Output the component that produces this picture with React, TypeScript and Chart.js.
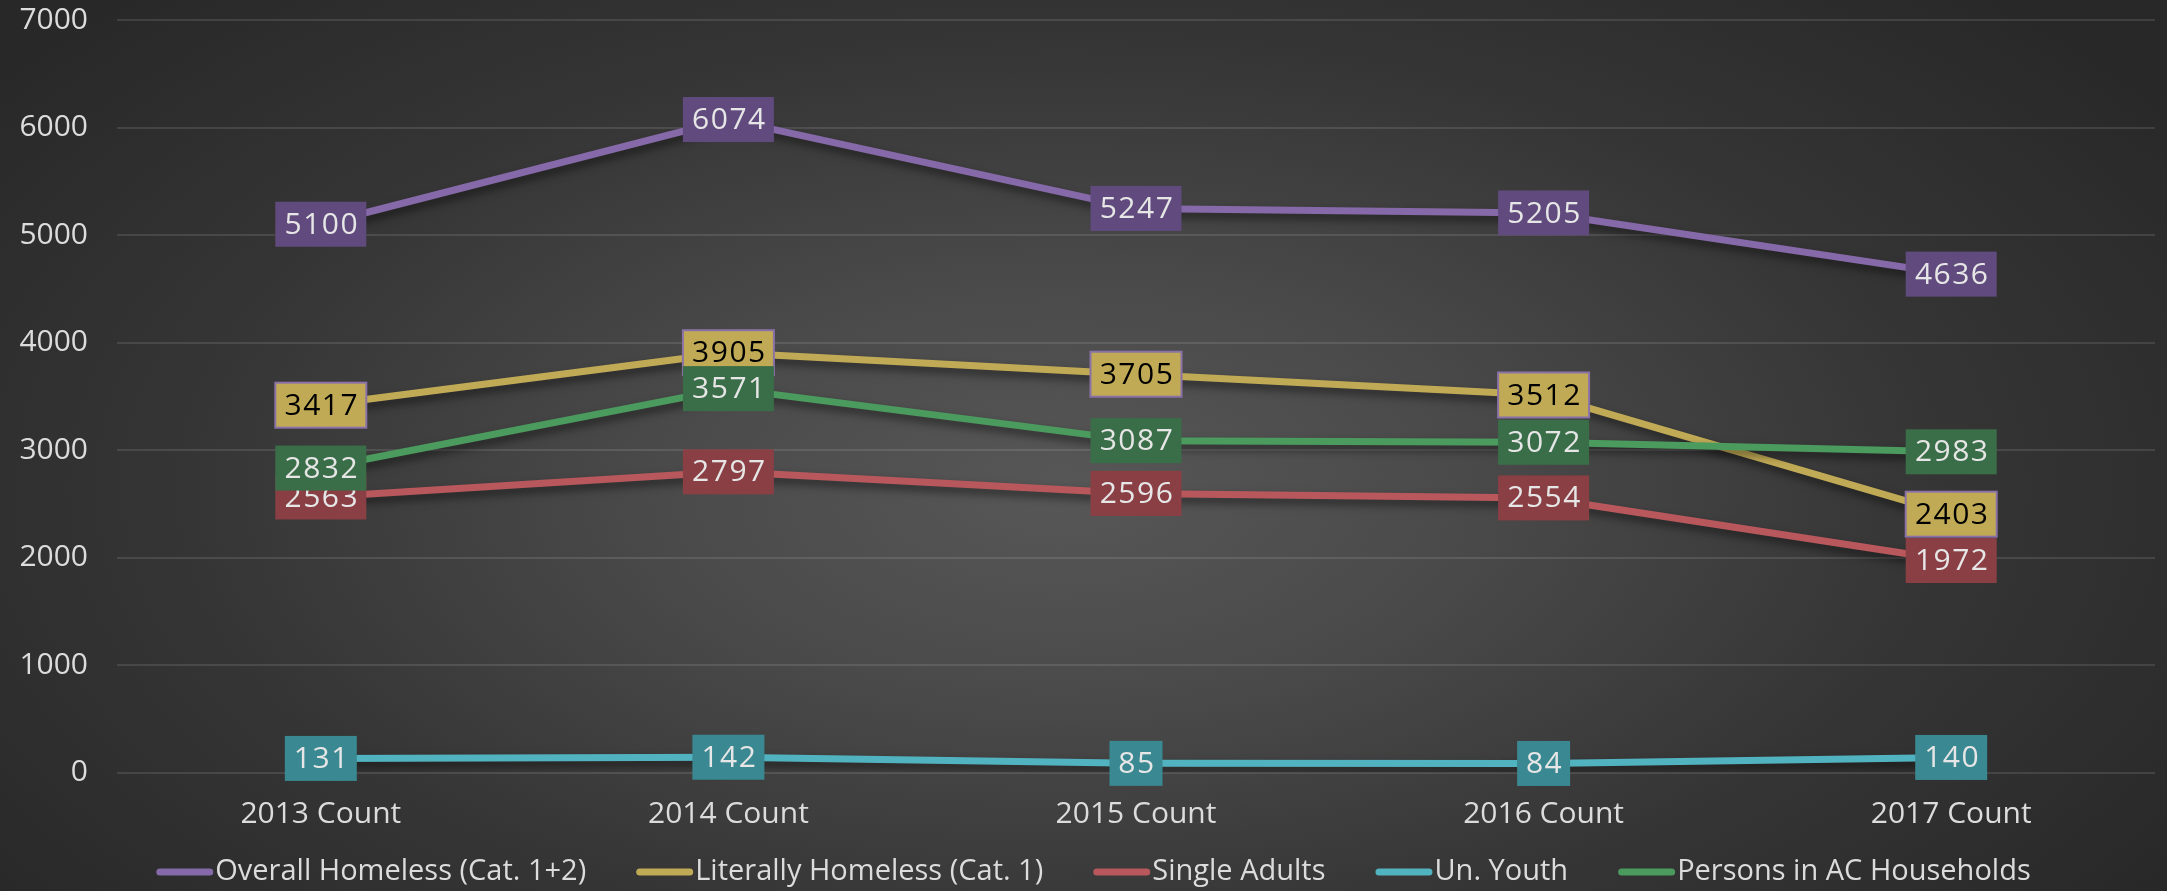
import React, { useEffect, useRef } from 'react';
import { Chart, registerables } from 'chart.js';

Chart.register(...registerables);

// ---- data ----
const categories = ['2013 Count', '2014 Count', '2015 Count', '2016 Count', '2017 Count'];
const seriesNames = [
  'Overall Homeless (Cat. 1+2)',
  'Literally Homeless (Cat. 1)',
  'Single Adults',
  'Un. Youth',
  'Persons in AC Households',
];
const overallHomeless = [5100, 6074, 5247, 5205, 4636];
const literallyHomeless = [3417, 3905, 3705, 3512, 2403];
const singleAdults = [2563, 2797, 2596, 2554, 1972];
const unYouth = [131, 142, 85, 84, 140];
const personsInAC = [2832, 3571, 3087, 3072, 2983];
const yMin = 0;
const yMax = 7000;
const yStep = 1000;

// ---- styles ----
const lineColors = ['#8669a8', '#c1aa55', '#b9585c', '#52b3c0', '#4b9a5e'];
const boxColors = ['#614b7e', '#c1aa55', '#8a3f45', '#3a8891', '#3a6e48'];
const boxBorders = [null, '#8a72a8', null, null, null];
const labelTextColors = ['#e6e6e6', '#000000', '#e6e6e6', '#e6e6e6', '#e6e6e6'];
const tickColor = '#dcdcdc';
const FONT = "'Open Sans', 'Liberation Sans', Arial, sans-serif";

const shadowAndLabels = {
  id: 'shadowAndLabels',
  beforeDatasetsDraw(chart: any) {
    const ctx = chart.ctx;
    ctx.save();
    ctx.shadowColor = 'rgba(0,0,0,0.5)';
    ctx.shadowBlur = 8;
    ctx.shadowOffsetX = 2;
    ctx.shadowOffsetY = 5;
  },
  afterDatasetsDraw(chart: any) {
    const ctx = chart.ctx;
    ctx.restore();
    ctx.save();
    ctx.font = `30px ${FONT}`;
    try { (ctx as any).letterSpacing = '1.5px'; } catch (e) {}
    ctx.textAlign = 'center';
    ctx.textBaseline = 'middle';
    chart.data.datasets.forEach((ds: any, di: number) => {
      const meta = chart.getDatasetMeta(di);
      meta.data.forEach((pt: any, i: number) => {
        const txt = String(ds.data[i]);
        const tw = ctx.measureText(txt).width;
        const bw = Math.round(tw + 16);
        const bh = 45;
        const x = pt.x;
        const y = pt.y;
        ctx.fillStyle = boxColors[di];
        ctx.fillRect(x - bw / 2, y - bh / 2, bw, bh);
        if (boxBorders[di]) {
          ctx.strokeStyle = boxBorders[di] as string;
          ctx.lineWidth = 2;
          ctx.strokeRect(x - bw / 2, y - bh / 2, bw, bh);
        }
        ctx.fillStyle = labelTextColors[di];
        ctx.fillText(txt, x + 1, y + 1);
      });
    });
    ctx.restore();
  },
};

const customLegend = {
  id: 'customLegend',
  afterDraw(chart: any) {
    const ctx = chart.ctx;
    ctx.save();
    ctx.font = `29px ${FONT}`;
    const markerW = 57;
    const gapText = 2;
    const gapItem = 50;
    const items = chart.data.datasets.map((ds: any) => ({
      text: ds.label as string,
      color: ds.borderColor as string,
      w: ctx.measureText(ds.label).width,
    }));
    const total =
      items.reduce((s: number, it: any) => s + markerW + gapText + it.w, 0) +
      gapItem * (items.length - 1);
    let x = chart.width / 2 + 10 - total / 2;
    const y = 872;
    items.forEach((it: any) => {
      ctx.strokeStyle = it.color;
      ctx.lineWidth = 7;
      ctx.lineCap = 'round';
      ctx.beginPath();
      ctx.moveTo(x + 3.5, y);
      ctx.lineTo(x + markerW - 3.5, y);
      ctx.stroke();
      ctx.fillStyle = tickColor;
      ctx.textAlign = 'left';
      ctx.textBaseline = 'middle';
      ctx.fillText(it.text, x + markerW + gapText, y);
      x += markerW + gapText + it.w + gapItem;
    });
    ctx.restore();
  },
};

export default function App() {
  const canvasRef = useRef<HTMLCanvasElement | null>(null);

  useEffect(() => {
    document.body.style.margin = '0';
    const canvas = canvasRef.current;
    if (!canvas) return;
    const seriesValues = [overallHomeless, literallyHomeless, singleAdults, unYouth, personsInAC];
    const chart = new Chart(canvas, {
      type: 'line',
      data: {
        labels: categories,
        datasets: seriesValues.map((vals, i) => ({
          label: seriesNames[i],
          data: vals,
          borderColor: lineColors[i],
          backgroundColor: lineColors[i],
          borderWidth: 7,
          pointRadius: 0,
          tension: 0,
          fill: false,
          order: seriesValues.length - i,
          borderCapStyle: 'round' as const,
          borderJoinStyle: 'round' as const,
        })),
      },
      options: {
        responsive: false,
        animation: false,
        devicePixelRatio: 1,
        layout: { padding: { left: 0, right: 12, top: 20, bottom: 0 } },
        plugins: {
          legend: { display: false },
          tooltip: { enabled: false },
        },
        font: { family: FONT, size: 30 },
        scales: {
          x: {
            offset: true,
            grid: { display: false },
            border: { display: false },
            ticks: {
              color: tickColor,
              font: { family: FONT, size: 30 },
              padding: 16,
              maxRotation: 0,
              autoSkip: false,
            },
            afterFit: (s: any) => {
              s.height = 118.5;
              s.paddingLeft = 0;
              s.paddingRight = 0;
            },
          },
          y: {
            min: yMin,
            max: yMax,
            ticks: {
              stepSize: yStep,
              color: tickColor,
              font: { family: FONT, size: 30 },
              padding: 29,
              callback: (v: any) => String(v),
            },
            grid: { color: 'rgba(255,255,255,0.11)', lineWidth: 2, drawTicks: false },
            border: { display: false },
            afterFit: (s: any) => {
              s.width = 117;
              s.paddingTop = 0;
              s.paddingBottom = 0;
            },
          },
        },
      } as any,
      plugins: [shadowAndLabels, customLegend],
    });
    return () => chart.destroy();
  }, []);

  return (
    <div
      style={{
        width: 2167,
        height: 891,
        background:
          'radial-gradient(ellipse 62% 78% at 49% 55%, #575757 0%, #4a4a4a 30%, #353535 65%, #282828 100%)',
      }}
    >
      <canvas ref={canvasRef} width={2167} height={891} style={{ display: 'block' }} />
    </div>
  );
}
